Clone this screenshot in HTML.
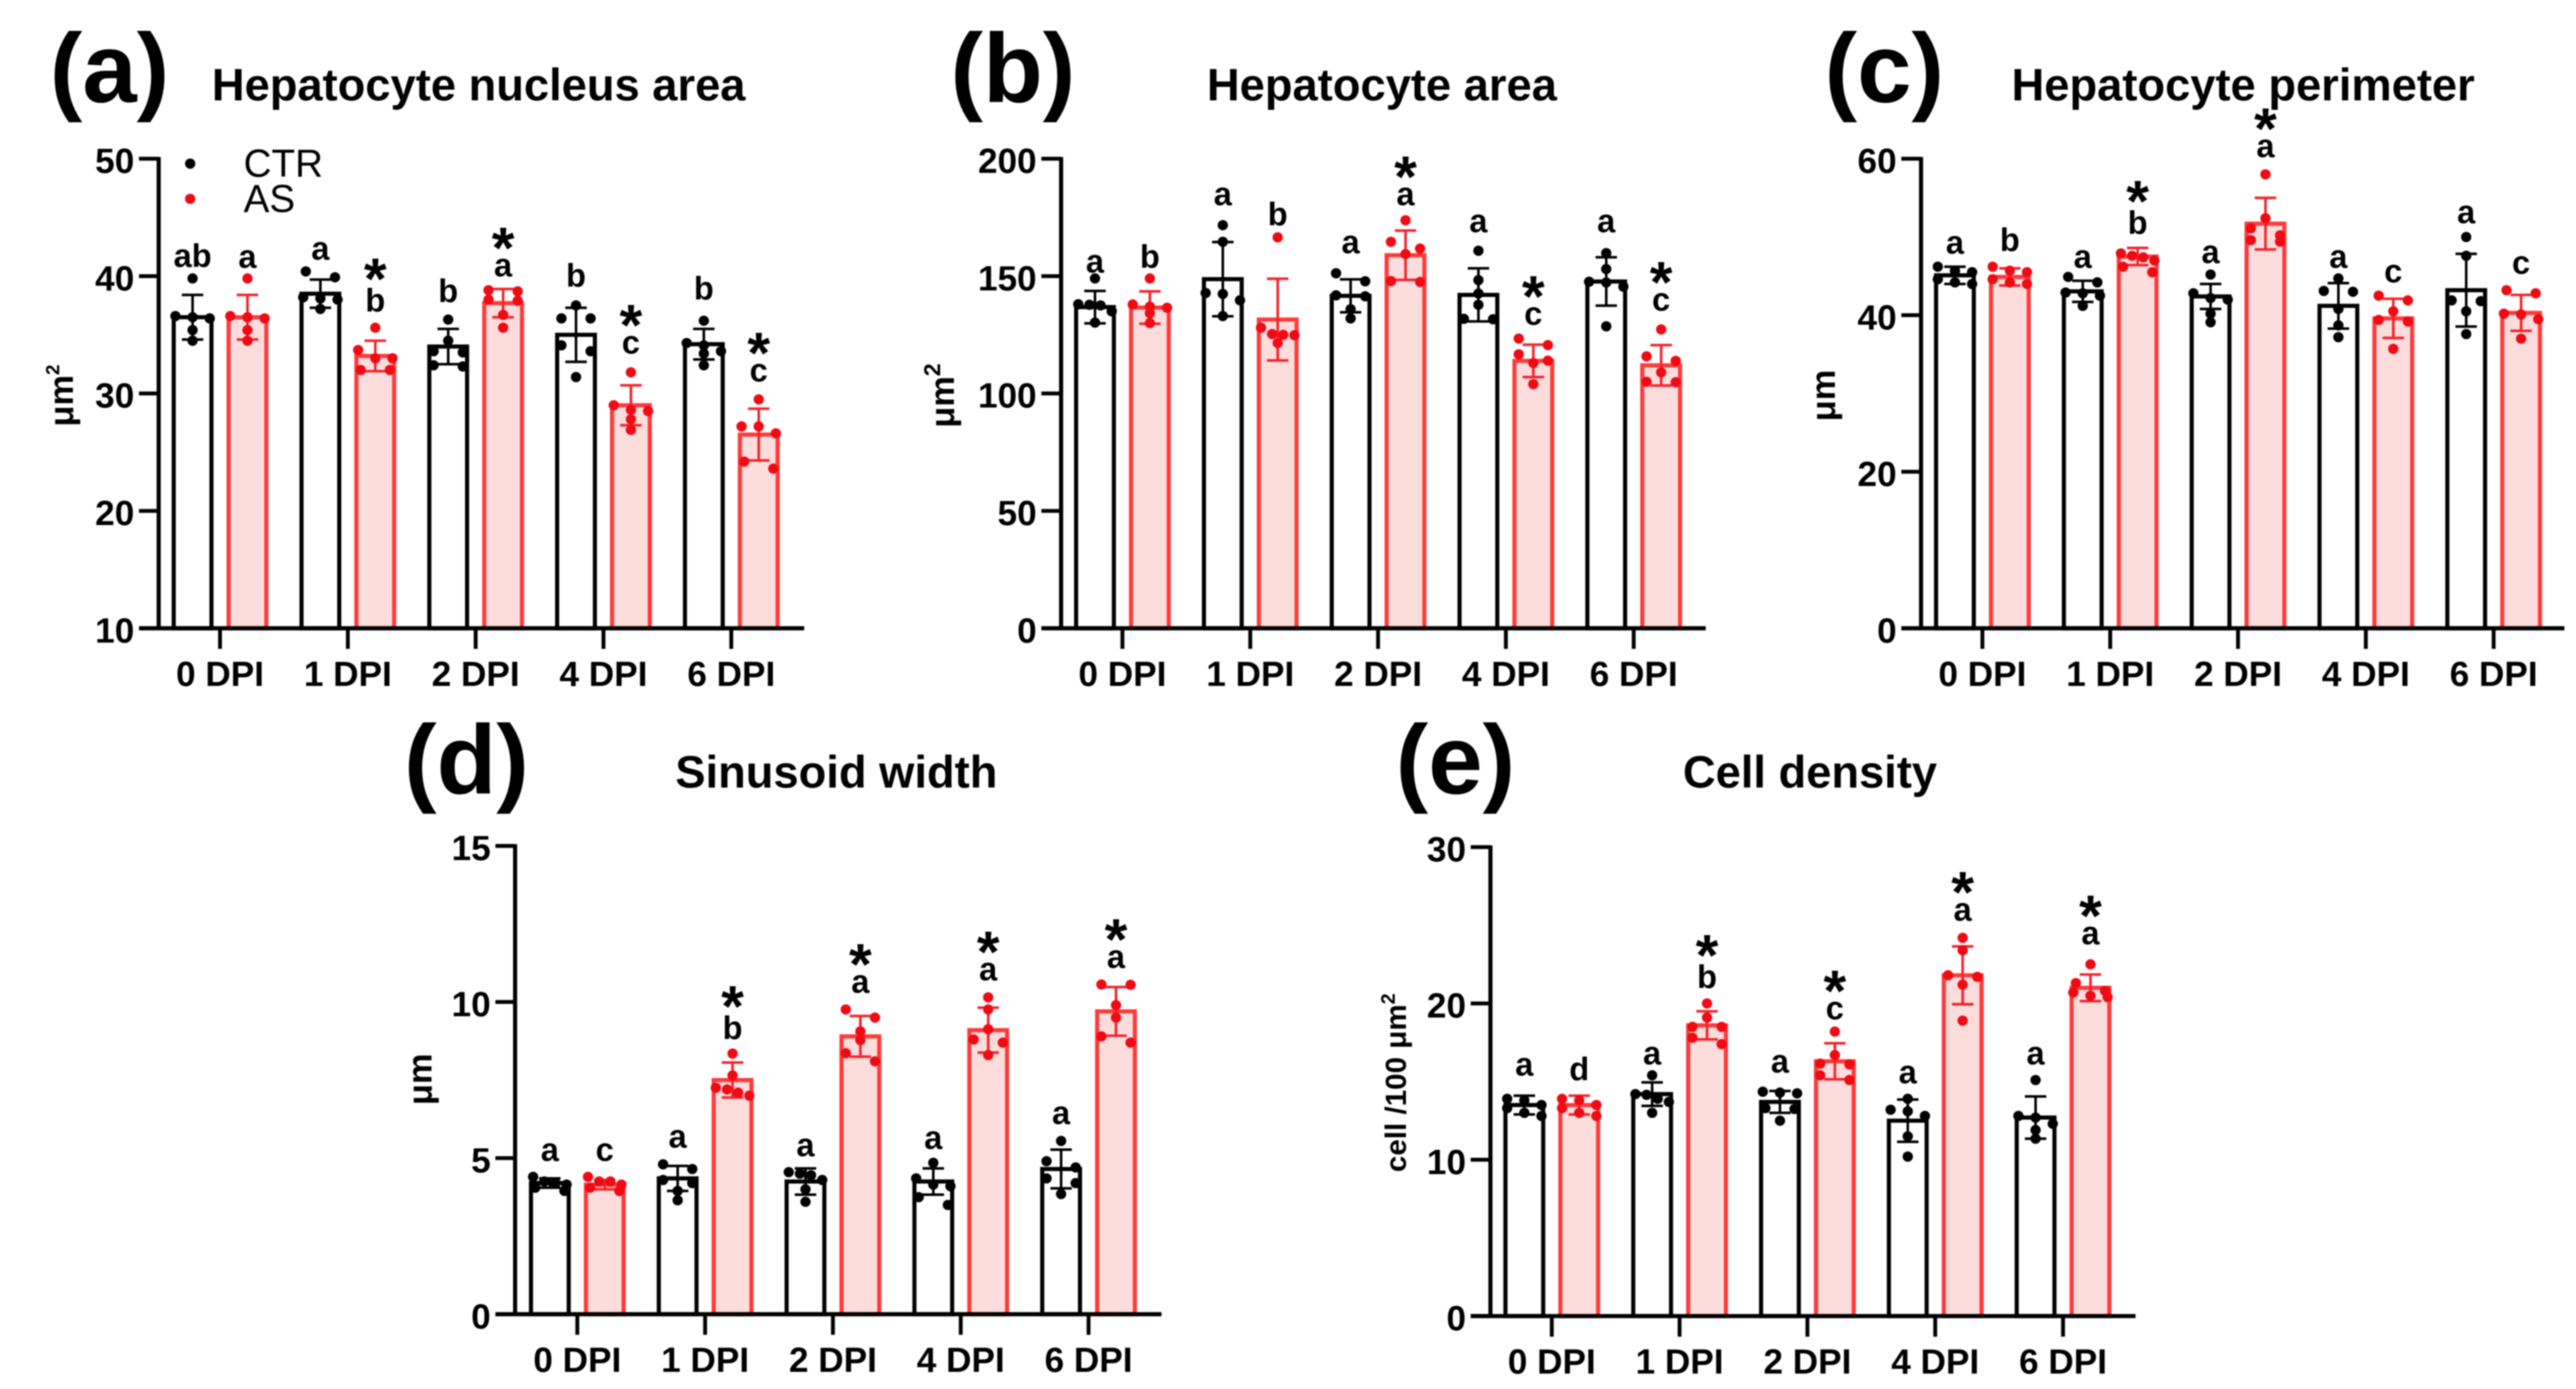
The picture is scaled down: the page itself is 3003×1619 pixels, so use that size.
<!DOCTYPE html>
<html lang="en">
<head>
<meta charset="utf-8">
<title>Hepatocyte morphometry by days post infection</title>
<style>
html,body{margin:0;padding:0;background:#fff;}
svg{display:block;filter:blur(0.7px);}
text{font-family:"Liberation Sans",sans-serif;fill:#000;}
.bold{font-weight:bold;}
.panel-letter{font-weight:bold;font-size:114px;}
.title{font-weight:bold;font-size:52.8px;text-anchor:middle;}
.ytitle{font-weight:bold;font-size:40px;text-anchor:middle;}
.legend{font-size:45px;}
.tick{font-weight:bold;font-size:41px;}
.sig{font-weight:bold;font-size:38px;text-anchor:middle;}
.star{font-weight:bold;font-size:68px;text-anchor:middle;}
</style>
</head>
<body>
<svg id="fig" xmlns="http://www.w3.org/2000/svg" width="3003" height="1619" viewBox="0 0 3003 1619">
  <rect x="0" y="0" width="3003" height="1619" fill="#ffffff"/>

  <text class="panel-letter" x="58" y="119">(a)</text>
  <text class="panel-letter" x="1108" y="119">(b)</text>
  <text class="panel-letter" x="2127" y="119">(c)</text>
  <text class="panel-letter" x="471" y="925">(d)</text>
  <text class="panel-letter" x="1627" y="925">(e)</text>

  <text class="title" x="558" y="117">Hepatocyte nucleus area</text>
  <text class="title" x="1611" y="117">Hepatocyte area</text>
  <text class="title" x="2615" y="117">Hepatocyte perimeter</text>
  <text class="title" x="975" y="918">Sinusoid width</text>
  <text class="title" x="2110" y="918">Cell density</text>

  <text class="ytitle" transform="translate(85,461) rotate(-90)">μm<tspan font-size="22" dy="-16">2</tspan></text>
  <text class="ytitle" transform="translate(1112,461) rotate(-90)">μm<tspan font-size="27" dy="-16">2</tspan></text>
  <text class="ytitle" transform="translate(2139,461) rotate(-90)">μm</text>
  <text class="ytitle" transform="translate(503,1258) rotate(-90)">μm</text>
  <text class="ytitle" style="font-size:34.5px" transform="translate(1639,1262) rotate(-90)">cell /100 μm<tspan font-size="23" dy="-13">2</tspan></text>

  <g>
    <circle cx="221.7" cy="190.7" r="6" fill="#000"/>
    <text class="legend" x="284" y="206">CTR</text>
    <circle cx="221.7" cy="231.7" r="6" fill="#f00a14"/>
    <text class="legend" x="284" y="247">AS</text>
  </g>
</svg>

<script>
// ---------- shared categories ----------
const categories = ["0 DPI", "1 DPI", "2 DPI", "4 DPI", "6 DPI"];

// ---------- panel a: hepatocyte nucleus area ----------
const aTicks = [10, 20, 30, 40, 50];
const aCtrMean = [36.5, 38.5, 34.0, 35.0, 34.2];
const aCtrSd = [1.9, 1.2, 1.5, 2.3, 1.3];
const aAsMean = [36.5, 33.2, 37.7, 29.0, 26.5];
const aAsSd = [1.9, 1.3, 1.2, 1.7, 2.2];
const aCtrPoints = [
  [39.8, 36.6, 36.5, 36.4, 35.4, 34.5],
  [40.4, 39.9, 38.2, 38.1, 38.0, 37.2],
  [36.3, 34.5, 33.6, 33.5, 32.4, 32.3],
  [37.5, 36.4, 36.4, 34.1, 33.6, 31.4],
  [36.2, 34.3, 34.1, 33.6, 33.4, 32.4]
];
const aAsPoints = [
  [39.8, 36.6, 36.5, 36.4, 35.4, 34.5],
  [35.6, 33.7, 33.0, 33.0, 32.0, 32.0],
  [38.8, 38.7, 38.0, 37.9, 36.7, 35.6],
  [31.8, 29.0, 28.6, 28.5, 27.8, 26.9],
  [29.5, 27.2, 27.2, 26.6, 24.2, 23.6]
];
const aCtrLetters = ["ab", "a", "b", "b", "b"];
const aAsLetters = ["a", "b", "a", "c", "c"];
const aCtrLetterLevel = [40.8, 41.4, 37.8, 39.1, 38.0];
const aAsLetterLevel = [40.7, 37.0, 40.0, 33.4, 31.05];
const aStars = [false, true, true, true, true];

// ---------- panel b: hepatocyte area ----------
const bTicks = [0, 50, 100, 150, 200];
const bCtrMean = [136.8, 148.7, 141.6, 142.0, 147.7];
const bCtrSd = [6.9, 15.8, 7.0, 11.3, 10.3];
const bAsMean = [136.6, 131.5, 158.9, 113.9, 112.0];
const bAsSd = [6.9, 17.4, 10.5, 6.9, 8.6];
const bCtrPoints = [
  [149, 138, 137.8, 137.5, 135, 130.2],
  [171.7, 164.6, 142.8, 142.4, 139.7, 133],
  [151.2, 147.8, 141.8, 141.4, 135.9, 132],
  [160.8, 148.3, 142.6, 137.8, 131.8, 131.6],
  [159.8, 153, 147.6, 147.3, 145.5, 128.6]
];
const bAsPoints = [
  [149, 137.9, 137, 136.5, 134.2, 130],
  [166.5, 128, 125.3, 125, 124.8, 121.5],
  [173.8, 164.6, 161.7, 159.4, 147.9, 147.5],
  [123.4, 120.6, 116.7, 114, 113, 104],
  [127.3, 115.8, 113.9, 109, 105, 104.8]
];
const bCtrLetters = ["a", "a", "a", "a", "a"];
const bAsLetters = ["b", "b", "a", "c", "c"];
const bCtrLetterLevel = [151.6, 180.3, 159.8, 168.8, 168.8];
const bAsLetterLevel = [153.5, 171.7, 180.3, 129.2, 135.3];
const bStars = [false, false, true, true, true];

// ---------- panel c: hepatocyte perimeter ----------
const cTicks = [0, 20, 40, 60];
const cCtrMean = [45.1, 43.05, 42.4, 41.2, 43.2];
const cCtrSd = [1.1, 1.35, 1.6, 2.9, 4.65];
const cAsMean = [44.9, 47.5, 51.7, 39.6, 40.3];
const cAsSd = [1.1, 1.1, 3.3, 2.5, 2.3];
const cCtrPoints = [
  [46.2, 45.7, 45.5, 44.6, 44.2, 44],
  [44.9, 44.2, 42.9, 42.8, 42.5, 41.2],
  [45.2, 42.8, 42.2, 42, 40.2, 39.1],
  [44.7, 43.1, 43, 40.8, 38.7, 37.2],
  [50, 47.6, 41.9, 41.8, 40.5, 37.6]
];
const cAsPoints = [
  [46.2, 45.7, 45.5, 44.6, 44.2, 44],
  [47.9, 47.6, 47.4, 47, 46.2, 45.5],
  [58, 52.4, 51.1, 50.2, 49.6, 49.4],
  [42.5, 41.9, 40.5, 39.4, 39.2, 35.7],
  [43.2, 42.8, 40.2, 40.1, 39.5, 37]
];
const cCtrLetters = ["a", "a", "a", "a", "a"];
const cAsLetters = ["b", "b", "a", "c", "c"];
const cCtrLetterLevel = [47.9, 46.1, 46.7, 46.1, 51.8];
const cAsLetterLevel = [48.2, 50.4, 60.2, 44.2, 45.3];
const cStars = [false, true, true, false, false];

// ---------- panel d: sinusoid width ----------
const dTicks = [0, 5, 10, 15];
const dCtrMean = [4.2, 4.35, 4.25, 4.25, 4.65];
const dCtrSd = [0.15, 0.4, 0.42, 0.42, 0.62];
const dAsMean = [4.15, 7.5, 8.9, 9.1, 9.7];
const dAsSd = [0.15, 0.56, 0.65, 0.72, 0.78];
const dCtrPoints = [
  [4.4, 4.25, 4.2, 4.15, 4.05, 3.95],
  [4.8, 4.65, 4.3, 4.2, 3.95, 3.65],
  [4.55, 4.5, 4.45, 4.3, 4.0, 3.6],
  [4.85, 4.35, 4.15, 4.1, 3.75, 3.5],
  [5.55, 4.9, 4.7, 4.35, 4.2, 3.85]
];
const dAsPoints = [
  [4.4, 4.25, 4.25, 4.15, 4.05, 3.95],
  [8.35, 7.65, 7.25, 7.2, 7.1, 7.0],
  [9.76, 9.5, 9.06, 8.78, 8.36, 8.1],
  [10.15, 9.76, 9.13, 8.8, 8.7, 8.3],
  [10.56, 10.55, 9.9, 9.5, 8.9, 8.7]
];
const dCtrLetters = ["a", "a", "a", "a", "a"];
const dAsLetters = ["c", "b", "a", "a", "a"];
const dCtrLetterLevel = [4.92, 5.34, 5.06, 5.3, 6.1];
const dAsLetterLevel = [4.92, 8.82, 10.3, 10.7, 11.1];
const dStars = [false, true, true, true, true];

// ---------- panel e: cell density ----------
const eTicks = [0, 10, 20, 30];
const eCtrMean = [13.5, 14.2, 13.7, 12.5, 12.7];
const eCtrSd = [0.6, 0.75, 0.7, 1.35, 1.35];
const eAsMean = [13.5, 18.6, 16.3, 21.8, 21.0];
const eAsSd = [0.6, 0.9, 1.15, 1.85, 0.85];
const eCtrPoints = [
  [13.9, 13.8, 13.5, 13.3, 13, 12.8],
  [15.4, 14.2, 14.15, 13.9, 13.7, 13],
  [14.35, 14.3, 14.25, 13.3, 13.25, 12.5],
  [13.9, 13.2, 13.1, 12.8, 11.5, 10.2],
  [15.1, 12.8, 12.7, 12.3, 11.9, 11.35]
];
const eAsPoints = [
  [13.9, 13.8, 13.5, 13.3, 13, 12.8],
  [20, 19.1, 18.5, 18.5, 17.8, 17.4],
  [18.2, 16.7, 16.15, 16.1, 15.4, 15.1],
  [24.2, 23.4, 21.8, 21.7, 21.2, 18.9],
  [22.5, 21.3, 20.8, 20.7, 20.5, 20.4]
];
const eCtrLetters = ["a", "a", "a", "a", "a"];
const eAsLetters = ["d", "b", "c", "a", "a"];
const eCtrLetterLevel = [15.4, 16.1, 15.6, 14.9, 16.1];
const eAsLetterLevel = [15.1, 21.0, 19.0, 25.3, 23.8];
const eStars = [false, true, true, true, true];

// ---------- drawing ----------
const NS = "http://www.w3.org/2000/svg";
const svg = document.getElementById("fig");
const BLACK = "#000000";
const RED_LINE = "#ff3a3a";
const RED_FILL = "#fddcdc";
const RED_DOT = "#f00a14";
const RED_ERR = "#f5222a";

function make(tag, attrs, parent) {
  const node = document.createElementNS(NS, tag);
  for (const k in attrs) node.setAttribute(k, attrs[k]);
  parent.appendChild(node);
  return node;
}

// Prism-style horizontal layout: near-equal values share a row and are spread out.
function swarm(values, yScale) {
  const sorted = values.slice().sort(function (p, q) { return q - p; });
  const out = [];
  let i = 0;
  while (i < sorted.length) {
    const first = yScale(sorted[i]);
    let j = i + 1;
    while (j < sorted.length && yScale(sorted[j]) - first < 10) j++;
    const n = j - i;
    const step = n === 2 ? 34 : n === 3 ? 20 : n === 4 ? 13 : 10;
    for (let k = 0; k < n; k++) {
      out.push({ v: sorted[i + k], dx: (k - (n - 1) / 2) * step });
    }
    i = j;
  }
  return out;
}

function drawPanel(p) {
  const g = make("g", {}, svg);
  
  

  const yScale = function (v) {
    return p.y0 - (v - p.min) / (p.max - p.min) * (p.y0 - p.yTop);
  };
  const xCat = function (i) { return p.cat0 + i * p.catStep; };
  const xBar = function (i, s) { return xCat(i) + (s === 0 ? -32 : 32); };

  const series = [
    { key: "ctr", mean: p.ctrMean, sd: p.ctrSd, pts: p.ctrPts, letters: p.ctrLetters, level: p.ctrLevel, line: BLACK, fill: "#ffffff", dot: BLACK, err: BLACK },
    { key: "as", mean: p.asMean, sd: p.asSd, pts: p.asPts, letters: p.asLetters, level: p.asLevel, line: RED_LINE, fill: RED_FILL, dot: RED_DOT, err: RED_ERR }
  ];

  series.forEach(function (s, si) {
    categories.forEach(function (cat, i) {
      const cx = xBar(i, si);
      const top = yScale(s.mean[i]);
      const bar = make("rect", { x: cx - 22, y: top, width: 44, height: p.y0 - top, fill: s.fill, stroke: s.line, "stroke-width": 4.8 }, g);
      
      

      const hi = yScale(s.mean[i] + s.sd[i]);
      const lo = yScale(s.mean[i] - s.sd[i]);
      const whisker = make("path", {
        d: "M" + (cx - 12.5) + " " + hi + "H" + (cx + 12.5) + "M" + cx + " " + hi + "V" + lo + "M" + (cx - 12.5) + " " + lo + "H" + (cx + 12.5),
        fill: "none", stroke: s.err, "stroke-width": 3
      }, g);
      
      

      swarm(s.pts[i], yScale).forEach(function (pt) {
        const dot = make("circle", { cx: cx + pt.dx, cy: yScale(pt.v), r: 6, fill: s.dot }, g);
        
        
      });

      const letterY = yScale(s.level[i]);
      const letter = make("text", { class: "sig", x: cx, y: letterY }, g);
      letter.textContent = s.letters[i];
      
      

      if (si === 1 && p.stars[i]) {
        const tall = s.letters[i] === "b" || s.letters[i] === "d";
        const star = make("text", { class: "star", x: cx, y: letterY + (tall ? -15 : -10) }, g);
        star.textContent = "*";
        
        
      }
    });
  });

  // y axis
  const yAxis = make("line", { x1: p.xAxis, x2: p.xAxis, y1: p.yTop - 2, y2: p.y0 + 2, stroke: BLACK, "stroke-width": 4.8 }, g);
  
  
  p.ticks.forEach(function (t) {
    const y = yScale(t);
    const tick = make("line", { x1: p.xAxis - 23, x2: p.xAxis, y1: y, y2: y, stroke: BLACK, "stroke-width": 4.5 }, g);
    
    
    const label = make("text", { class: "tick", x: p.xAxis - 28.5, y: y + 16.5, "text-anchor": "end" }, g);
    label.textContent = String(t);
    
    
  });

  // x axis
  const xAxis = make("line", { x1: p.xAxis - 23, x2: p.xEnd, y1: p.y0, y2: p.y0, stroke: BLACK, "stroke-width": 4.8 }, g);
  
  
  categories.forEach(function (cat, i) {
    const x = xCat(i);
    const tick = make("line", { x1: x, x2: x, y1: p.y0, y2: p.y0 + 24, stroke: BLACK, "stroke-width": 4.5 }, g);
    
    
    const label = make("text", { class: "tick", x: x, y: p.y0 + 67, "text-anchor": "middle" }, g);
    label.textContent = cat;
    
    
  });
}

drawPanel({ id: "a", min: 10, max: 50, ticks: aTicks, xAxis: 185, xEnd: 937.5, yTop: 185, y0: 732.3, cat0: 256.5, catStep: 149,
  ctrMean: aCtrMean, ctrSd: aCtrSd, ctrPts: aCtrPoints, ctrLetters: aCtrLetters, ctrLevel: aCtrLetterLevel,
  asMean: aAsMean, asSd: aAsSd, asPts: aAsPoints, asLetters: aAsLetters, asLevel: aAsLetterLevel, stars: aStars });
drawPanel({ id: "b", min: 0, max: 200, ticks: bTicks, xAxis: 1237, xEnd: 1988.5, yTop: 185, y0: 732.3, cat0: 1308.5, catStep: 149,
  ctrMean: bCtrMean, ctrSd: bCtrSd, ctrPts: bCtrPoints, ctrLetters: bCtrLetters, ctrLevel: bCtrLetterLevel,
  asMean: bAsMean, asSd: bAsSd, asPts: bAsPoints, asLetters: bAsLetters, asLevel: bAsLetterLevel, stars: bStars });
drawPanel({ id: "c", min: 0, max: 60, ticks: cTicks, xAxis: 2239.5, xEnd: 2989.5, yTop: 185, y0: 732.3, cat0: 2311, catStep: 149,
  ctrMean: cCtrMean, ctrSd: cCtrSd, ctrPts: cCtrPoints, ctrLetters: cCtrLetters, ctrLevel: cCtrLetterLevel,
  asMean: cAsMean, asSd: cAsSd, asPts: cAsPoints, asLetters: cAsLetters, asLevel: cAsLetterLevel, stars: cStars });
drawPanel({ id: "d", min: 0, max: 15, ticks: dTicks, xAxis: 600.5, xEnd: 1354, yTop: 986, y0: 1531.8, cat0: 673, catStep: 149,
  ctrMean: dCtrMean, ctrSd: dCtrSd, ctrPts: dCtrPoints, ctrLetters: dCtrLetters, ctrLevel: dCtrLetterLevel,
  asMean: dAsMean, asSd: dAsSd, asPts: dAsPoints, asLetters: dAsLetters, asLevel: dAsLetterLevel, stars: dStars });
drawPanel({ id: "e", min: 0, max: 30, ticks: eTicks, xAxis: 1737.5, xEnd: 2489.5, yTop: 987.4, y0: 1534, cat0: 1809, catStep: 149,
  ctrMean: eCtrMean, ctrSd: eCtrSd, ctrPts: eCtrPoints, ctrLetters: eCtrLetters, ctrLevel: eCtrLetterLevel,
  asMean: eAsMean, asSd: eAsSd, asPts: eAsPoints, asLetters: eAsLetters, asLevel: eAsLetterLevel, stars: eStars });
</script>
</body>
</html>
